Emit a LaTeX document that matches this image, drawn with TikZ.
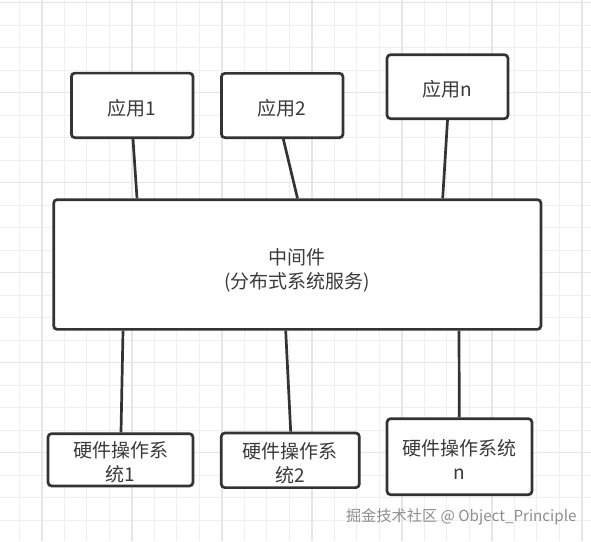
\documentclass[tikz,border=0pt]{standalone}
\usepackage{fontspec}
\setmainfont{Noto Sans CJK SC}
\definecolor{ink}{HTML}{333333}
\definecolor{txt}{HTML}{3A3A3A}
\definecolor{gridminor}{HTML}{EFEFEF}
\definecolor{gridmajor}{HTML}{E6E6E6}
\definecolor{wm}{HTML}{8E8E8E}
\begin{document}
\begin{tikzpicture}[x=1pt,y=-1pt,
  box/.style={draw=ink,line width=2.7pt,rounded corners=3.5pt,fill=white,inner sep=0pt},
  boxtext/.style={text=txt,align=center,font=\fontsize{19}{24}\selectfont,inner sep=0pt,yshift=-2.5pt},
  link/.style={draw=ink,line width=2.7pt}]
\useasboundingbox (0,0) rectangle (591,541);
\fill[white] (0,0) rectangle (591,541);
% grid
\foreach \k in {0,...,25}{
  \draw[gridminor,line width=1pt] ({19.3+22.5*\k},0) -- ({19.3+22.5*\k},541);
}
\foreach \k in {0,...,24}{
  \draw[gridminor,line width=1pt] (0,{2.7+22.5*\k}) -- (591,{2.7+22.5*\k});
}
\foreach \k in {1,5,9,13,17,21,25}{
  \draw[gridmajor,line width=1.5pt] ({19.3+22.5*\k},0) -- ({19.3+22.5*\k},541);
}
\foreach \k in {0,4,8,12,16,20,24}{
  \draw[gridmajor,line width=1.5pt] (0,{2.7+22.5*\k}) -- (591,{2.7+22.5*\k});
}
% nodes
\node[box,minimum width=121.6pt,minimum height=64.6pt,label={[boxtext]center:应用1}] (a1) at (132.2,105.4) {};
\node[box,minimum width=121.6pt,minimum height=64.3pt,label={[boxtext]center:应用2}] (a2) at (282.2,105.5) {};
\node[box,minimum width=120.9pt,minimum height=64pt,label={[boxtext]center:应用n}] (an) at (447.5,86.7) {};
\node[box,minimum width=487.3pt,minimum height=129.7pt,label={[boxtext,yshift=-3pt]center:中间件\\(分布式系统服务)}] (mw) at (297.3,264.5) {};
\node[box,minimum width=144.9pt,minimum height=52.3pt,label={[boxtext]center:硬件操作系\\统1}] (h1) at (120.5,459.8) {};
\node[box,minimum width=138pt,minimum height=54.6pt,label={[boxtext]center:硬件操作系\\统2}] (h2) at (290.3,460.3) {};
\node[box,minimum width=144.9pt,minimum height=76pt,label={[boxtext]center:硬件操作系统\\n}] (hn) at (459.5,456.7) {};
% connectors
\draw[link] ([xshift=0.8pt]a1.south) -- ([xshift=-160.3pt]mw.north);
\draw[link] ([xshift=1.1pt]a2.south) -- ([xshift=0.2pt]mw.north);
\draw[link] (an.south) -- ([xshift=145.4pt]mw.north);
\draw[link] ([xshift=-174.3pt]mw.south) -- ([xshift=0.5pt]h1.north);
\draw[link] ([xshift=-11.6pt]mw.south) -- ([xshift=0.4pt]h2.north);
\draw[link] ([xshift=161.7pt]mw.south) -- ([xshift=-0.2pt]hn.north);
% watermark
\node[text=wm,font=\fontsize{15.2}{18}\selectfont,inner sep=0pt] (wmk) at (461.3,516.7) {掘金技术社区 @ Object\_Principle};
\end{tikzpicture}
\end{document}
